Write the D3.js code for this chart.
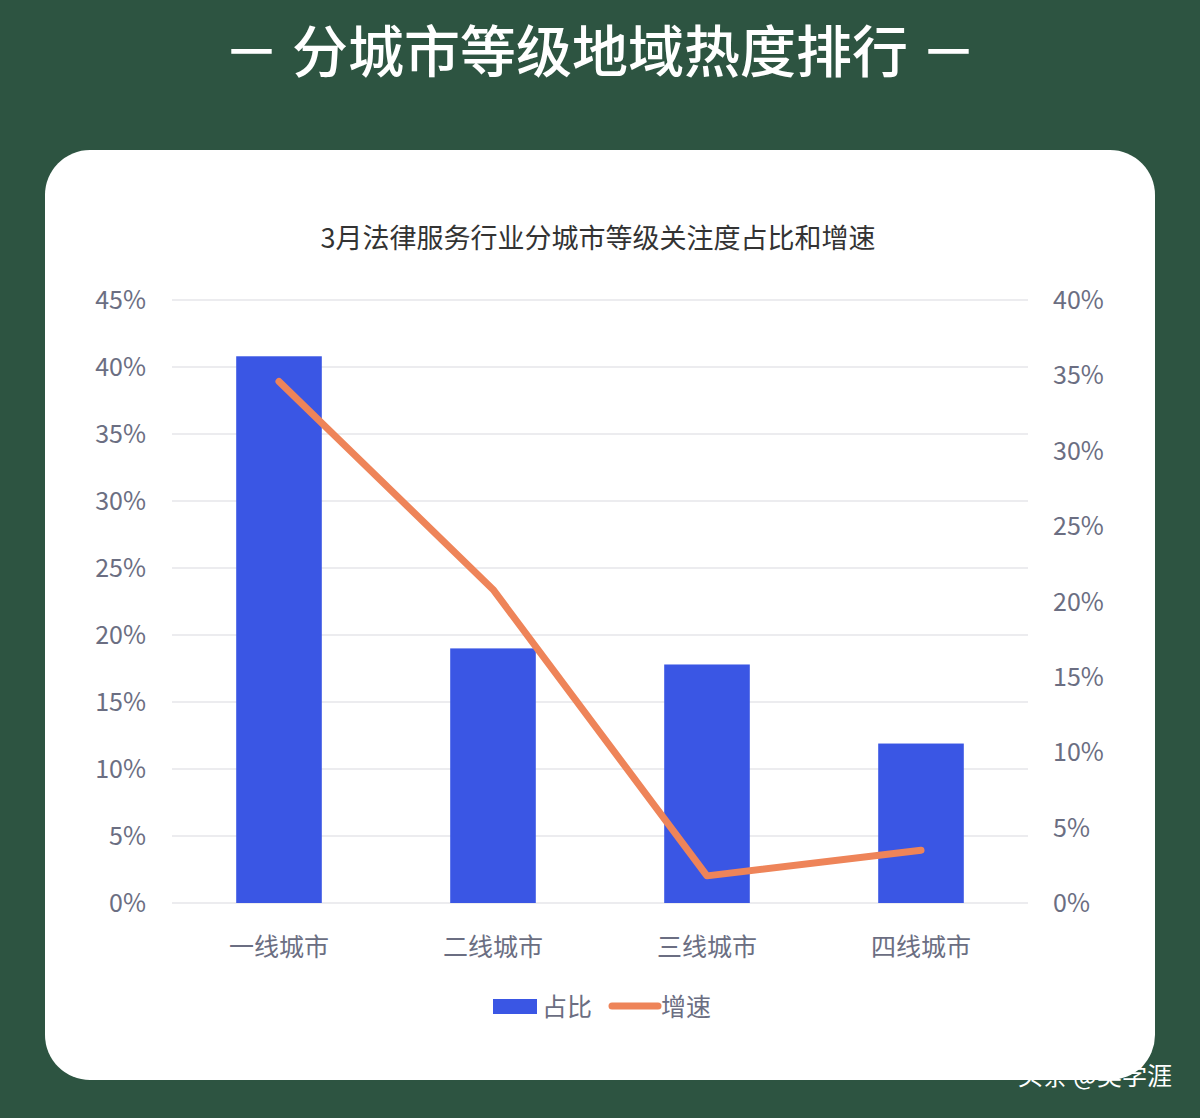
<!DOCTYPE html><html><head><meta charset="utf-8">
<script src="https://cdn.jsdelivr.net/npm/d3@7"></script>
<style>body{margin:0;background:#2d5441;}svg{display:block;font-family:"Noto Sans CJK SC","Noto Sans",sans-serif;}</style>
</head><body><svg id="c" width="1200" height="1118"></svg>
<script>
const categories=["一线城市","二线城市","三线城市","四线城市"];
const shareValues=[40.8,19.0,17.8,11.9];
const growthValues=[34.6,20.8,1.8,3.5];
const leftTicks=[0,5,10,15,20,25,30,35,40,45];
const rightTicks=[0,5,10,15,20,25,30,35,40];
const svg=d3.select("#c");
svg.append("rect").attr("width",1200).attr("height",1118).attr("fill","#2d5441");
svg.append("text").attr("x",600).attr("y",72).attr("text-anchor","middle").attr("fill","#fff").attr("font-size",56).attr("font-weight",500).text("－ 分城市等级地域热度排行 －");
svg.append("rect").attr("x",45).attr("y",150).attr("width",1110).attr("height",930).attr("rx",45).attr("fill","#fff");
svg.append("text").attr("x",598).attr("y",248).attr("text-anchor","middle").attr("fill","#333").attr("font-size",27).text("3月法律服务行业分城市等级关注度占比和增速");
const x=d3.scaleBand().domain(categories).range([172,1028]);
const yL=d3.scaleLinear().domain([0,45]).range([903,300]);
const yR=d3.scaleLinear().domain([0,40]).range([903,300]);
const lab="#6b6e82";
leftTicks.forEach(t=>{
 svg.append("line").attr("x1",172).attr("x2",1028).attr("y1",yL(t)).attr("y2",yL(t)).attr("stroke","#e6e6ea").attr("stroke-width",1.5);
 svg.append("text").attr("x",146).attr("y",yL(t)+9).attr("text-anchor","end").attr("fill",lab).attr("font-size",25).text(t+"%");
});
rightTicks.forEach(t=>{
 svg.append("text").attr("x",1053).attr("y",yR(t)+9).attr("fill",lab).attr("font-size",25).text(t+"%");
});
const bw=x.bandwidth()*0.4;
svg.selectAll(".bar").data(shareValues).enter().append("rect")
 .attr("x",(d,i)=>x(categories[i])+x.bandwidth()/2-bw/2).attr("y",d=>yL(d))
 .attr("width",bw).attr("height",d=>903-yL(d)).attr("fill","#3a56e4");
svg.selectAll(".xl").data(categories).enter().append("text")
 .attr("x",d=>x(d)+x.bandwidth()/2).attr("y",956).attr("text-anchor","middle").attr("fill",lab).attr("font-size",25).text(d=>d);
const line=d3.line().x((d,i)=>x(categories[i])+x.bandwidth()/2).y(d=>yR(d));
svg.append("path").datum(growthValues).attr("d",line).attr("fill","none").attr("stroke","#ee8459").attr("stroke-width",7).attr("stroke-linejoin","round").attr("stroke-linecap","round");
svg.append("rect").attr("x",493).attr("y",999).attr("width",44).attr("height",15).attr("fill","#3a56e4");
svg.append("text").attr("x",542).attr("y",1016).attr("fill",lab).attr("font-size",25).text("占比");
svg.append("line").attr("x1",612).attr("x2",658).attr("y1",1006).attr("y2",1006).attr("stroke","#ee8459").attr("stroke-width",7).attr("stroke-linecap","round");
svg.append("text").attr("x",661).attr("y",1016).attr("fill",lab).attr("font-size",25).text("增速");
svg.append("text").attr("x",1172).attr("y",1085).attr("text-anchor","end").attr("fill","#fff").attr("font-size",25).text("头条 @吴学涯");
</script></body></html>
